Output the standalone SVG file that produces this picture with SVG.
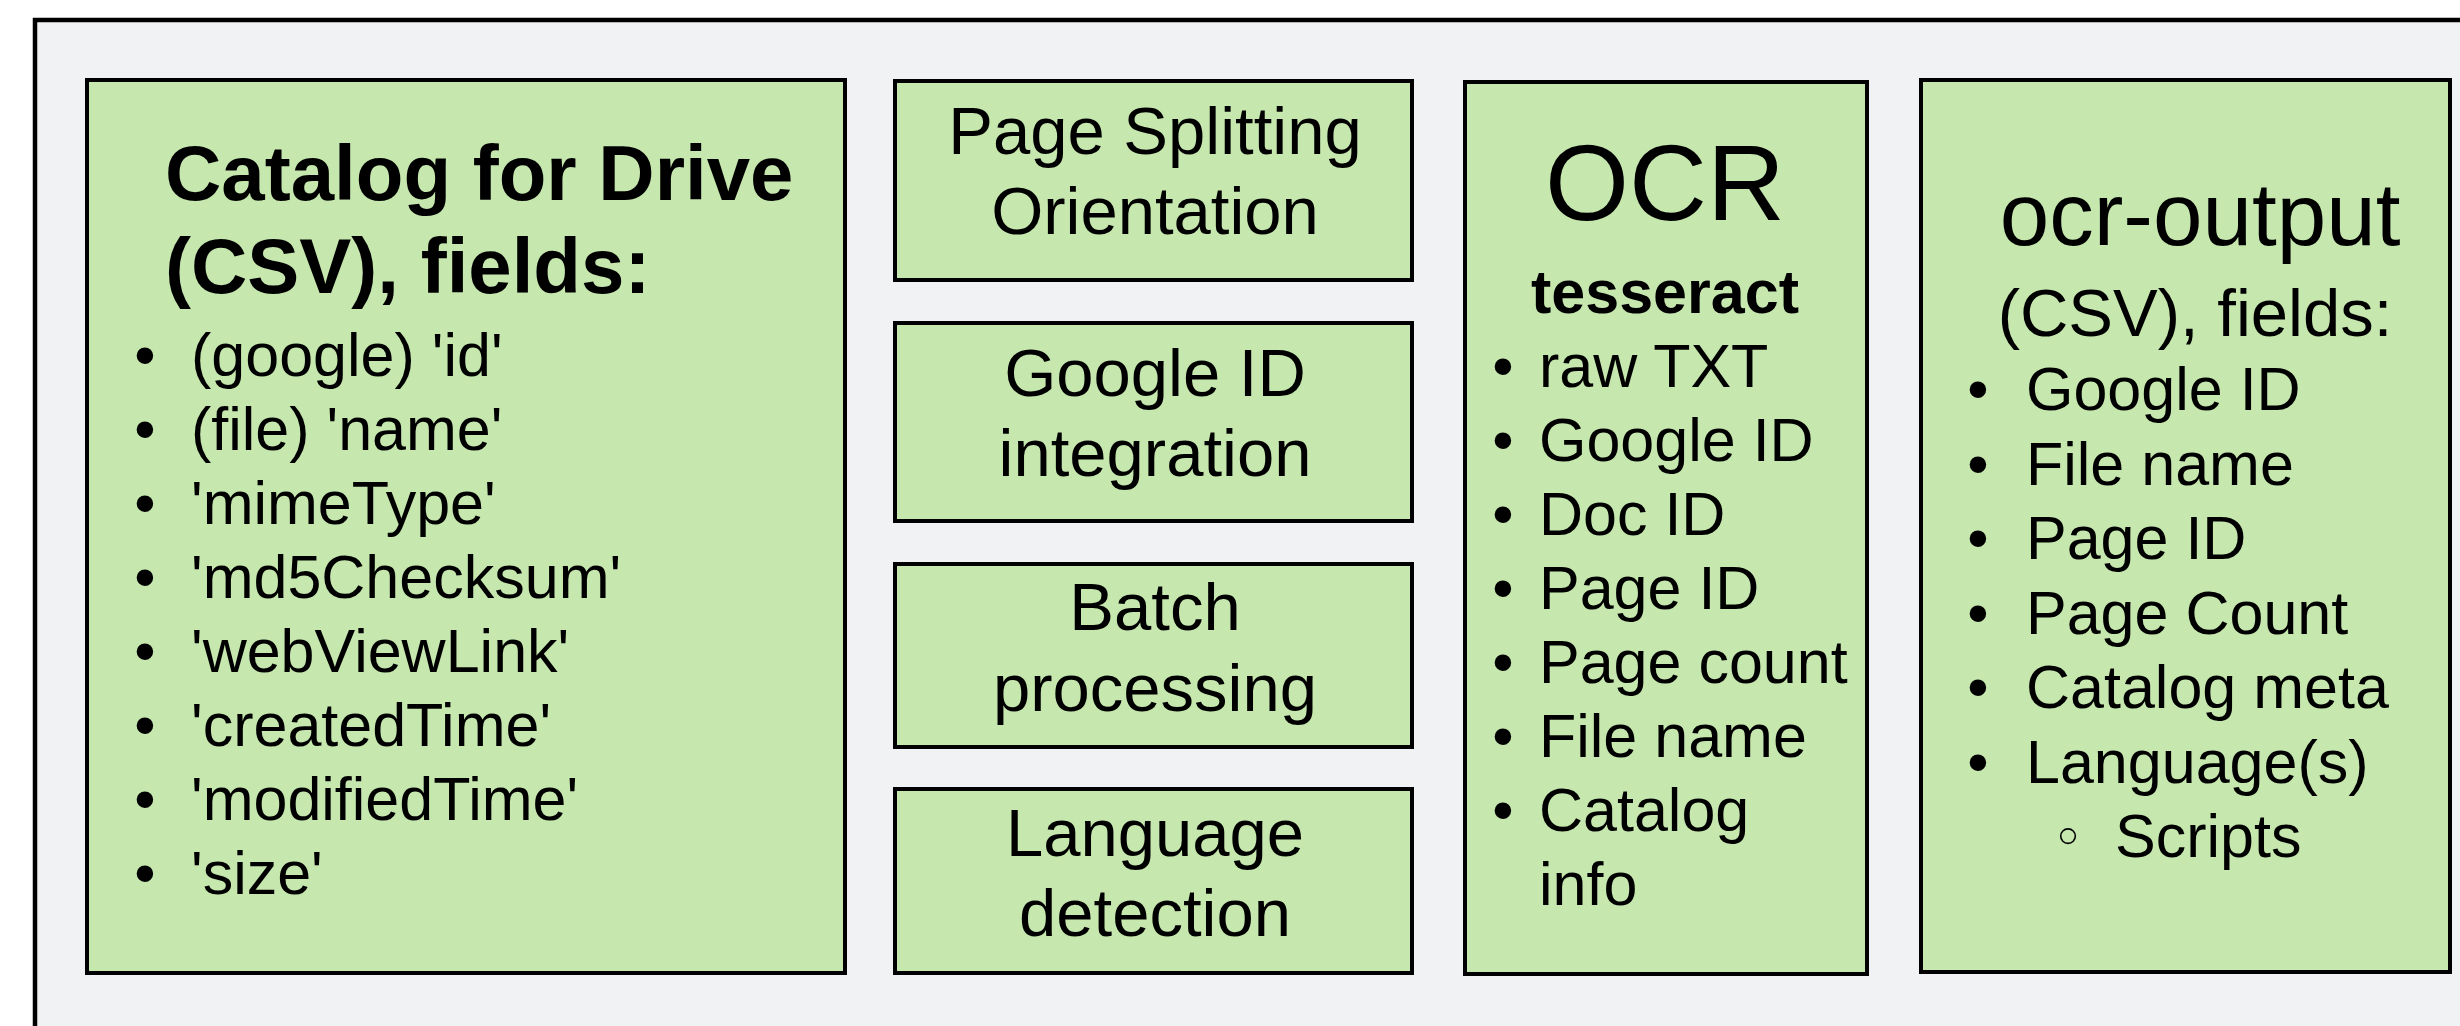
<svg xmlns="http://www.w3.org/2000/svg" width="2460" height="1026" viewBox="0 0 2460 1026">
<style>
.box{fill:#c6e7ae;stroke:#000;stroke-width:4}
.t{font-family:"Liberation Sans",Arial,sans-serif;fill:#000}
.c{text-anchor:middle}
.b{font-weight:bold}
.s61{font-size:61px}
.s66{font-size:67px}
</style>
<rect x="0" y="0" width="2460" height="1026" fill="#ffffff"/>
<rect id="frame" x="35" y="20" width="2500" height="1100" fill="#f1f2f4" stroke="#000" stroke-width="4.5"/>
<g id="connectors"></g>
<g id="catalog">
<rect class="box" x="87" y="80" width="758" height="893"/>
<text class="t b" x="165" y="200" font-size="78">Catalog for Drive</text>
<text class="t b" x="165" y="293" font-size="78">(CSV), fields:</text>
<g class="t s61">
<text x="145" y="376" class="c">•</text><text x="191" y="376">(google) 'id'</text>
<text x="145" y="450" class="c">•</text><text x="191" y="450">(file) 'name'</text>
<text x="145" y="524" class="c">•</text><text x="191" y="524">'mimeType'</text>
<text x="145" y="598" class="c">•</text><text x="191" y="598">'md5Checksum'</text>
<text x="145" y="672" class="c">•</text><text x="191" y="672">'webViewLink'</text>
<text x="145" y="746" class="c">•</text><text x="191" y="746">'createdTime'</text>
<text x="145" y="820" class="c">•</text><text x="191" y="820">'modifiedTime'</text>
<text x="145" y="894" class="c">•</text><text x="191" y="894">'size'</text>
</g>
</g>
<g id="page-splitting">
<rect class="box" x="895" y="81" width="517" height="199"/>
<text class="t c s66" x="1155" y="154">Page Splitting</text>
<text class="t c s66" x="1155" y="234">Orientation</text>
</g>
<g id="google-id">
<rect class="box" x="895" y="323" width="517" height="198"/>
<text class="t c s66" x="1155" y="396">Google ID</text>
<text class="t c s66" x="1155" y="476">integration</text>
</g>
<g id="batch">
<rect class="box" x="895" y="564" width="517" height="183"/>
<text class="t c s66" x="1155" y="630">Batch</text>
<text class="t c s66" x="1155" y="711">processing</text>
</g>
<g id="language">
<rect class="box" x="895" y="789" width="517" height="184"/>
<text class="t c s66" x="1155" y="856">Language</text>
<text class="t c s66" x="1155" y="936">detection</text>
</g>
<g id="ocr">
<rect class="box" x="1465" y="82" width="402" height="892"/>
<text class="t c" x="1665" y="220" font-size="108">OCR</text>
<text class="t c b" x="1665" y="313" font-size="61">tesseract</text>
<g class="t s61">
<text x="1503" y="387" class="c">•</text><text x="1539" y="387">raw TXT</text>
<text x="1503" y="461" class="c">•</text><text x="1539" y="461">Google ID</text>
<text x="1503" y="535" class="c">•</text><text x="1539" y="535">Doc ID</text>
<text x="1503" y="609" class="c">•</text><text x="1539" y="609">Page ID</text>
<text x="1503" y="683" class="c">•</text><text x="1539" y="683">Page count</text>
<text x="1503" y="757" class="c">•</text><text x="1539" y="757">File name</text>
<text x="1503" y="831" class="c">•</text><text x="1539" y="831">Catalog</text>
<text x="1539" y="905">info</text>
</g>
</g>
<g id="ocr-output">
<rect class="box" x="1921" y="80" width="529" height="892"/>
<text class="t c" x="2200" y="245" font-size="89">ocr-output</text>
<text class="t c s66" x="2195" y="336">(CSV), fields:</text>
<g class="t s61">
<text x="1978" y="410" class="c">•</text><text x="2026" y="410">Google ID</text>
<text x="1978" y="484.5" class="c">•</text><text x="2026" y="484.5">File name</text>
<text x="1978" y="559" class="c">•</text><text x="2026" y="559">Page ID</text>
<text x="1978" y="633.5" class="c">•</text><text x="2026" y="633.5">Page Count</text>
<text x="1978" y="708" class="c">•</text><text x="2026" y="708">Catalog meta</text>
<text x="1978" y="782.5" class="c">•</text><text x="2026" y="782.5">Language(s)</text>
<text x="2068" y="857" class="c" font-family="'DejaVu Sans',sans-serif" font-size="56">◦</text><text x="2115" y="857">Scripts</text>
</g>
</g>
</svg>
